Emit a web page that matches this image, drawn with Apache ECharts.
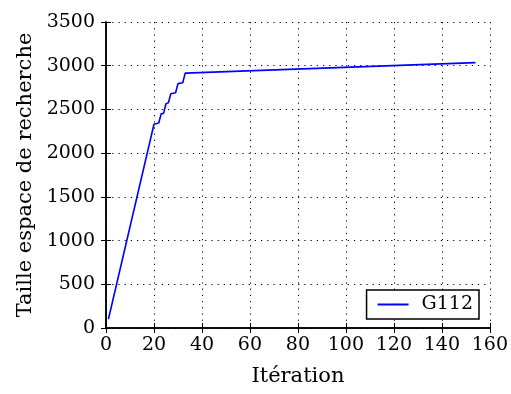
<!DOCTYPE html>
<html>
<head>
<meta charset="utf-8">
<script src="https://cdn.jsdelivr.net/npm/echarts@6/dist/echarts.min.js"></script>
<style>
  html, body { margin: 0; padding: 0; background: #fff; }
  #chart { width: 511px; height: 394px; }
</style>
</head>
<body>
<div id="chart"></div>
<script>
const iterations = [1, 20, 22, 23, 24, 25, 26, 27, 29, 30, 32, 33, 154]
const taille = [100, 2330, 2345, 2450, 2455, 2565, 2575, 2680, 2690, 2795, 2805, 2915, 3035]
const seriesName = 'G112'

const FONT = '"DejaVu Serif", "Liberation Serif", serif'
const dotted = { color: '#000', width: 1, type: [1.2, 5] }
const frame = { show: true, lineStyle: { color: '#000', width: 1.5 } }
const tickIn = { show: true, inside: true, length: 5, lineStyle: { color: '#000', width: 1 } }
const plain = v => String(v)

const chart = echarts.init(document.getElementById('chart'))
chart.setOption({
  animation: false,
  textStyle: { fontFamily: FONT },
  grid: { left: 106, right: 21, top: 22, bottom: 66 },
  legend: {
    data: [seriesName],
    right: 32,
    bottom: 75,
    backgroundColor: '#fff',
    borderColor: '#000',
    borderWidth: 1.5,
    borderRadius: 0,
    padding: [5, 6, 5, 10],
    itemWidth: 31,
    itemHeight: 2,
    itemGap: 0,
    textStyle: { fontFamily: FONT, fontSize: 19, color: '#000', padding: [0, 0, 0, 8] },
  },
  xAxis: [
    {
      type: 'value', min: 0, max: 160, interval: 20,
      name: 'Itération', nameLocation: 'middle', nameGap: 38,
      nameTextStyle: { fontFamily: FONT, fontSize: 21, color: '#000' },
      axisLine: frame, axisTick: tickIn,
      axisLabel: { fontFamily: FONT, fontSize: 19, color: '#000', margin: 8, formatter: plain },
      splitLine: { show: true, lineStyle: dotted },
    },
    {
      type: 'value', position: 'top', min: 0, max: 160, interval: 20,
      axisLine: frame, axisTick: tickIn, axisLabel: { show: false }, splitLine: { show: false },
    },
  ],
  yAxis: [
    {
      type: 'value', min: 0, max: 3500, interval: 500,
      name: 'Taille espace de recherche', nameLocation: 'middle', nameGap: 62,
      nameTextStyle: { fontFamily: FONT, fontSize: 21, color: '#000' },
      axisLine: frame, axisTick: tickIn,
      axisLabel: { fontFamily: FONT, fontSize: 19, color: '#000', margin: 11, formatter: plain },
      splitLine: { show: true, lineStyle: dotted },
    },
    {
      type: 'value', position: 'right', min: 0, max: 3500, interval: 500,
      axisLine: frame, axisTick: tickIn, axisLabel: { show: false }, splitLine: { show: false },
    },
  ],
  series: [{
    name: seriesName,
    type: 'line',
    symbol: 'none',
    lineStyle: { color: '#0000ff', width: 1.6 },
    itemStyle: { color: '#0000ff' },
    data: iterations.map((x, i) => [x, taille[i]]),
  }],
})
</script>
</body>
</html>
